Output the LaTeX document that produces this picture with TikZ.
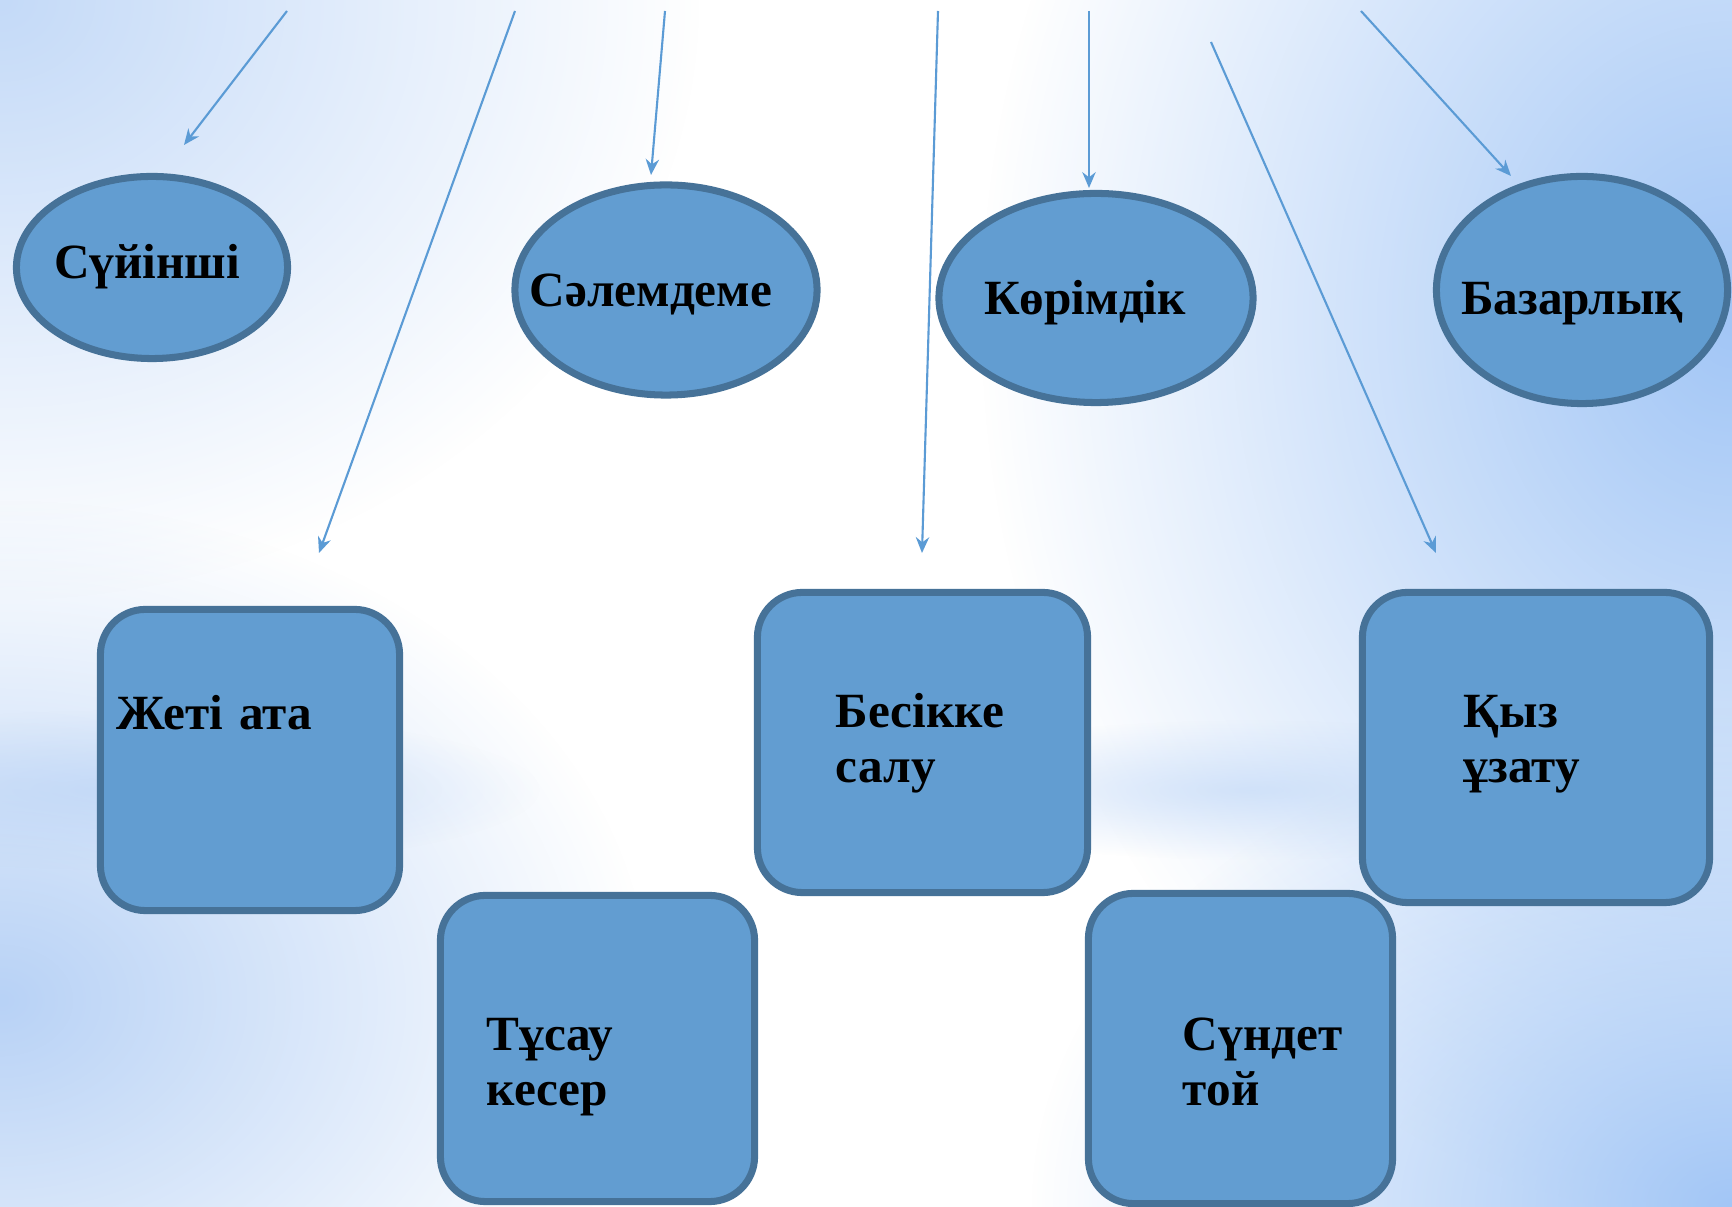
\documentclass[tikz,border=0pt]{standalone}
\usepackage{fontspec}
\setmainfont{Liberation Serif}
\usetikzlibrary{arrows.meta,shapes.geometric,fadings}
\definecolor{nodefill}{RGB}{98, 157, 209}
\definecolor{nodeedge}{RGB}{70, 114, 152}
\definecolor{linkblue}{RGB}{91, 155, 213}
\definecolor{bga}{RGB}{196, 218, 248}
\definecolor{bgb}{RGB}{162, 198, 246}
\definecolor{bgc}{RGB}{184, 210, 246}
\tikzfading[name=softglow, inner color=transparent!0, outer color=transparent!100]
% text of an oval, moved by dx and dy
\newcommand{\ovaltext}[3]{\raisebox{#2}{\makebox[0pt]{\kern#1 #3\kern-#1}}}

\tikzset{
  oval/.style={shape=ellipse, draw=nodeedge, fill=nodefill, line width=2pt, inner sep=0pt,
    text height=0pt, text depth=0pt, font=\bfseries\fontsize{14}{15.6}\selectfont},
  card/.style={shape=rectangle, rounded corners=0.45cm, draw=nodeedge, fill=nodefill, line width=2pt,
    inner sep=0pt, align=left, font=\bfseries\fontsize{14}{15.6}\selectfont},
  link/.style={draw=linkblue, line width=0.6pt, -{Stealth[length=4.5pt,width=3.8pt]}},
  glow/.style={path fading=softglow}
}

\begin{document}
\begin{tikzpicture}[x=0.01cm,y=-0.01cm]
\useasboundingbox (0,0) rectangle (1732,1207);
\clip (0,0) rectangle (1732,1207);
% background
\fill[white] (0,0) rectangle (1732,1207);
\fill[bga,glow] (0,0) ellipse [x radius=700, y radius=600];
\fill[bgb,glow] (1732,320) ellipse [x radius=750, y radius=900];
\fill[bgc,glow] (0,1000) ellipse [x radius=650, y radius=500];
\fill[bgb,glow] (1732,1207) ellipse [x radius=700, y radius=500];
\fill[bgc,glow,opacity=0.6] (120,790) ellipse [x radius=420, y radius=80];
\fill[bga,glow,opacity=0.7] (1250,790) ellipse [x radius=380, y radius=70];

% top row
\node[oval, minimum width=2.71cm, minimum height=1.82cm] (suyinshi) at (152,267.5) {\ovaltext{-1.4pt}{-3.1pt}{Сүйінші}};
\node[oval, minimum width=3.02cm, minimum height=2.10cm] (salem) at (666,290) {\ovaltext{-4.3pt}{-4.6pt}{Сәлемдеме}};
\node[oval, minimum width=3.14cm, minimum height=2.09cm] (korim) at (1096,298) {\ovaltext{-3.1pt}{-4.8pt}{Көрімдік}};
\node[oval, minimum width=2.91cm, minimum height=2.27cm] (bazar) at (1582,290) {\ovaltext{-2.8pt}{-7.1pt}{Базарлық}};

% cards
\node[card, minimum width=2.99cm, minimum height=3.01cm, text width=2.66cm, text height=0pt, text depth=17.1pt] (jeti) at (250,760) {Жеті ата};
\node[card, minimum width=3.30cm, minimum height=3.00cm, text width=1.73cm, text height=0pt, text depth=8.5pt] (besik) at (922.5,742.5) {Бесікке\\салу};
\node[card, minimum width=3.47cm, minimum height=3.10cm, text width=1.44cm, text height=0pt, text depth=11.4pt] (qyz) at (1536,747.5) {Қыз\\ұзату};
\node[card, minimum width=3.14cm, minimum height=3.06cm, text width=2.21cm, text height=1.1pt, text depth=0pt] (tusau) at (597.5,1048.5) {Тұсау\\кесер};
\node[card, minimum width=3.04cm, minimum height=3.10cm, text width=1.15cm, text height=1.1pt, text depth=0pt] (sundet) at (1240.5,1048.5) {Сүндет\\той};

% arrow ends
\coordinate (t1) at (287,11);   \coordinate (h1) at (184,145);
\coordinate (t2) at (515,11);   \coordinate (h2) at (319,553);
\coordinate (t3) at (665,11);   \coordinate (h3) at (651,175);
\coordinate (t4) at (938,11);   \coordinate (h4) at (922,553);
\coordinate (t5) at (1089,11);  \coordinate (h5) at (1089,188);
\coordinate (t6) at (1211,42);  \coordinate (h6) at (1436,553);
\coordinate (t7) at (1361,11);  \coordinate (h7) at (1511,176);

\path (t1) edge[link] (h1);
\path (t2) edge[link] (h2);
\path (t3) edge[link] (h3);
\path (t4) edge[link] (h4);
\path (t5) edge[link] (h5);
\path (t6) edge[link] (h6);
\path (t7) edge[link] (h7);
\end{tikzpicture}
\end{document}
